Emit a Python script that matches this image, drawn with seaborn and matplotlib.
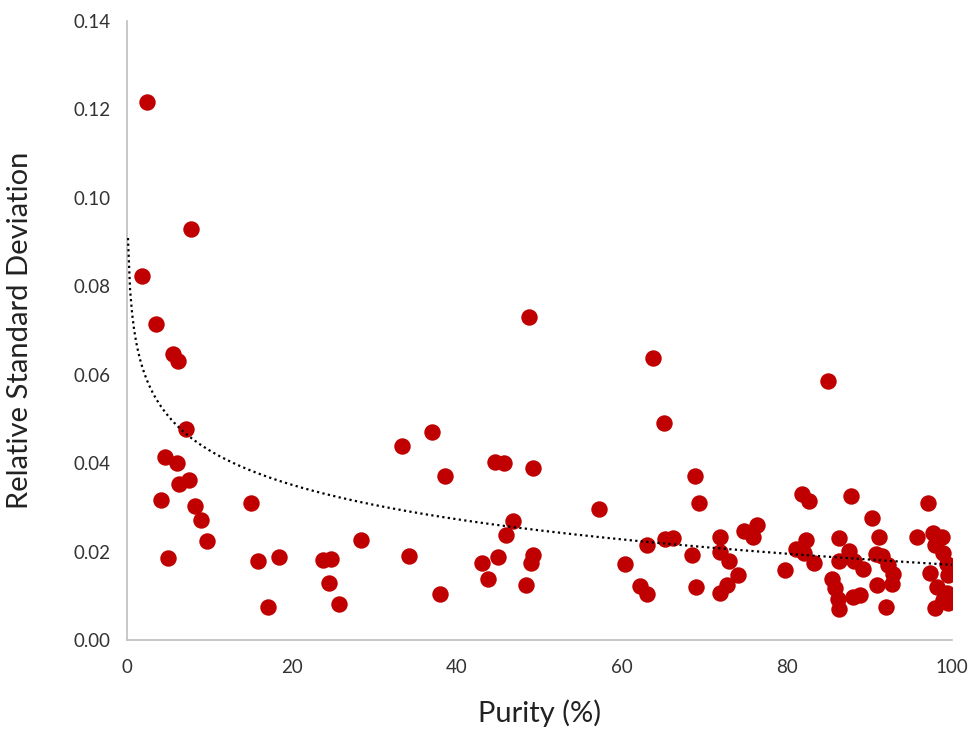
import matplotlib
matplotlib.use("Agg")
import matplotlib.pyplot as plt
import seaborn as sns
import numpy as np
import pandas as pd

# Purity (%) and relative standard deviation
purity = [2.5, 1.9, 7.8, 3.5, 5.6, 6.2, 7.2, 4.6, 6.1, 7.5, 6.3, 4.2, 8.3, 9.0, 9.7, 5.0,
          15.0, 15.9, 17.1, 18.4, 23.8, 24.8, 24.5, 25.7, 28.4, 33.4, 34.2, 37.0, 38.5, 37.9,
          43.0, 43.8, 44.6, 45.7, 45.0, 45.9, 46.8, 48.7, 49.2, 49.2, 49.0, 48.4, 57.2,
          63.8, 65.1, 68.8, 69.3, 63.0, 65.2, 66.2, 60.4, 62.2, 63.0, 68.5, 69.0,
          71.9, 71.9, 73.0, 74.1, 72.7, 71.9, 74.8, 76.4, 75.9, 79.8,
          85.0, 81.8, 82.7, 87.8, 90.3, 97.1, 81.1, 82.3, 82.1, 83.3, 86.3, 86.3, 87.5, 88.1,
          89.2, 91.2, 90.8, 91.5, 92.2, 92.8, 92.7, 90.9, 85.5, 85.8, 86.2, 86.3, 88.0, 88.8,
          92.0, 95.8, 97.7, 98.8, 97.9, 98.9, 99.4, 97.3, 99.5, 98.2, 99.4, 99.5, 97.9, 98.9]
rsd = [0.1217, 0.0823, 0.0930, 0.0715, 0.0647, 0.0632, 0.0477, 0.0414, 0.0400, 0.0362, 0.0353,
       0.0317, 0.0303, 0.0271, 0.0224, 0.0185,
       0.0310, 0.0179, 0.0075, 0.0188, 0.0181, 0.0183, 0.0129, 0.0081, 0.0226, 0.0439, 0.0190,
       0.0470, 0.0371, 0.0104,
       0.0174, 0.0138, 0.0403, 0.0400, 0.0188, 0.0238, 0.0269, 0.0731, 0.0389, 0.0192, 0.0174,
       0.0124, 0.0296,
       0.0638, 0.0491, 0.0371, 0.0310, 0.0215, 0.0228, 0.0231, 0.0172, 0.0122, 0.0104, 0.0192,
       0.0120,
       0.0233, 0.0199, 0.0179, 0.0147, 0.0124, 0.0106, 0.0247, 0.0260, 0.0233, 0.0158,
       0.0586, 0.0330, 0.0314, 0.0326, 0.0276, 0.0310, 0.0206, 0.0226, 0.0197, 0.0174, 0.0231,
       0.0179, 0.0201, 0.0179,
       0.0160, 0.0233, 0.0195, 0.0190, 0.0170, 0.0149, 0.0127, 0.0124, 0.0138, 0.0118, 0.0093,
       0.0070, 0.0097, 0.0102,
       0.0075, 0.0233, 0.0242, 0.0233, 0.0215, 0.0197, 0.0172, 0.0152, 0.0147, 0.0120, 0.0106,
       0.0084, 0.0072, 0.0090]

x_ticks = [0, 20, 40, 60, 80, 100]
y_ticks = [0.00, 0.02, 0.04, 0.06, 0.08, 0.10, 0.12, 0.14]

df = pd.DataFrame({"purity": purity, "rsd": rsd})

sns.set_style("white")
plt.rcParams["font.family"] = ["Lato", "DejaVu Sans"]

fig = plt.figure(figsize=(9.68, 7.3), dpi=100)
ax = fig.add_axes([0.131, 0.1233, 0.8525, 0.8479])

sns.scatterplot(data=df, x="purity", y="rsd", ax=ax, color="#C00000",
                s=140, linewidth=0, zorder=3)

# logarithmic trendline (Excel style)
a, b = np.polyfit(np.log(df["purity"]), df["rsd"], 1)
xt = np.linspace(0.14, 100, 400)
ax.plot(xt, a * np.log(xt) + b, color="black", linestyle=(0, (1, 1.5)),
        linewidth=1.6, zorder=4)

ax.set_xlim(0, 100)
ax.set_ylim(0, 0.14)
ax.set_xticks(x_ticks)
ax.set_yticks(y_ticks)
ax.set_yticklabels([f"{v:.2f}" for v in y_ticks])

for side in ["top", "right"]:
    ax.spines[side].set_visible(False)
for side in ["left", "bottom"]:
    ax.spines[side].set_color("#BFBFBF")
    ax.spines[side].set_linewidth(1.2)

ax.tick_params(axis="both", direction="out", length=5, width=1.2, color="#BFBFBF",
               labelsize=13.5, labelcolor="#333333", pad=7)
ax.tick_params(axis="x", pad=9)

ax.set_xlabel("Purity (%)", fontsize=21, color="#222222")
ax.set_ylabel("Relative Standard Deviation", fontsize=21, color="#222222")
ax.xaxis.set_label_coords(0.5, -0.118)
ax.yaxis.set_label_coords(-0.13, 0.5)
ax.xaxis.label.set_va("center")
ax.yaxis.label.set_va("center")

fig.savefig("out.png", dpi=100)
